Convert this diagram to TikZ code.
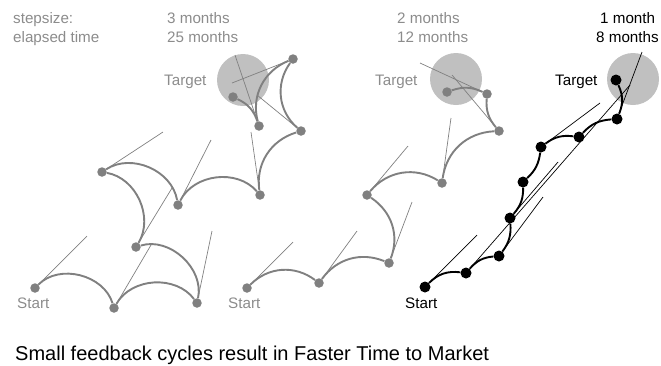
\documentclass[tikz,border=0pt]{standalone}
\usepackage{fontspec}
\setmainfont{Liberation Sans}
\definecolor{midgray}{RGB}{128,128,128}
\definecolor{textgray}{RGB}{140,140,140}
\definecolor{goalgray}{RGB}{192,192,192}
\begin{document}
\begin{tikzpicture}
        [x=1pt, y=-1pt,
        spot/.style={circle, fill=midgray, inner sep=0pt, minimum size=9.5pt},
        bigspot/.style={circle, fill=black, inner sep=0pt, minimum size=11pt},
        hop/.style={midgray, line width=1.9pt},
        aim/.style={midgray, line width=0.7pt},
        goal/.style={fill=goalgray},
        txt/.style={anchor=base west, inner sep=0pt, text=textgray, font=\fontsize{15.2}{18}\selectfont}]

        \useasboundingbox (0,0) rectangle (661,365);

        % target areas
        \fill[goal] (243,80) circle (26pt);
        \fill[goal] (456,79) circle (26pt);
        \fill[goal] (633,79) circle (26pt);

        % header texts
        \node[txt] (ss) at (13,23) {stepsize:};
        \node[txt] (et) at (13,42) {elapsed time};
        \node[txt] (ss1) at (167,23) {3 months};
        \node[txt] (et1) at (167,42) {25 months};
        \node[txt] (ss2) at (397,23) {2 months};
        \node[txt] (et2) at (397,42) {12 months};
        \node[txt, text=black] (ss3) at (600,23) {1 month};
        \node[txt, text=black] (et3) at (596,42) {8 months};

        % start and target labels
        \node[txt] (st1) at (17,308) {Start};
        \node[txt] (st2) at (228,308) {Start};
        \node[txt, text=black] (st3) at (405,308) {Start};
        \node[txt] (tg1) at (164,85) {Target};
        \node[txt] (tg2) at (375,85) {Target};
        \node[txt, text=black] (tg3) at (555,85) {Target};

        % 3 months
        \node[spot] (s1) at (35,288) {};
        \node[spot] (p1) at (114,308) {};
        \node[spot] (p2) at (197,303) {};
        \node[spot] (p3) at (136,247) {};
        \node[spot] (p4) at (102,172) {};
        \node[spot] (p5) at (178,205) {};
        \node[spot] (p6) at (260,195) {};
        \node[spot] (p7) at (301,131) {};
        \node[spot] (p8) at (293,59) {};
        \node[spot] (p9) at (259,126) {};
        \node[spot] (p10) at (233,97) {};
        \coordinate (a0) at (87,236);
        \coordinate (a1) at (151,245);
        \coordinate (a2) at (212,231);
        \coordinate (a3) at (172,188);
        \coordinate (a4) at (163,132);
        \coordinate (a5) at (211,140);
        \coordinate (a6) at (251,132);
        \coordinate (a7) at (257,95);
        \coordinate (a8) at (232,83);
        \coordinate (a9) at (235,55);

        % aiming lines
        \draw[aim] (s1) -- (a0);
        \draw[aim] (p1) -- (a1);
        \draw[aim] (p2) -- (a2);
        \draw[aim] (p3) -- (a3);
        \draw[aim] (p4) -- (a4);
        \draw[aim] (p5) -- (a5);
        \draw[aim] (p6) -- (a6);
        \draw[aim] (p7) -- (a7);
        \draw[aim] (p8) -- (a8);
        \draw[aim] (p9) -- (a9);
        % steps actually taken
        \draw[hop] (s1) to[out=45, in=107] (p1);
        \draw[hop] (p1) to[out=60, in=127] (p2);
        \draw[hop] (p2) to[out=78, in=17] (p3);
        \draw[hop] (p3) to[out=59, in=-10] (p4);
        \draw[hop] (p4) to[out=33, in=100] (p5);
        \draw[hop] (p5) to[out=63, in=131] (p6);
        \draw[hop] (p6) to[out=98, in=197] (p7);
        \draw[hop] (p7) to[out=139, in=234] (p8);
        \draw[hop] (p8) to[out=202, in=105] (p9);
        \draw[hop] (p9) to[out=109, in=-25] (p10);

        % 2 months
        \node[spot] (s2) at (247,288) {};
        \node[spot] (q1) at (319,283) {};
        \node[spot] (q2) at (389,263) {};
        \node[spot] (q3) at (367,195) {};
        \node[spot] (q4) at (442,183) {};
        \node[spot] (q5) at (499,131) {};
        \node[spot] (q6) at (487,94) {};
        \node[spot] (q7) at (447,92) {};
        \coordinate (b0) at (293,242);
        \coordinate (b1) at (357,231);
        \coordinate (b2) at (412,202);
        \coordinate (b3) at (408,146);
        \coordinate (b4) at (451,118);
        \coordinate (b5) at (452,75);
        \coordinate (b6) at (420,63);

        \draw[aim] (s2) -- (b0);
        \draw[aim] (q1) -- (b1);
        \draw[aim] (q2) -- (b2);
        \draw[aim] (q3) -- (b3);
        \draw[aim] (q4) -- (b4);
        \draw[aim] (q5) -- (b5);
        \draw[aim] (q6) -- (b6);
        \draw[hop] (s2) to[out=45, in=143] (q1);
        \draw[hop] (q1) to[out=54, in=158] (q2);
        \draw[hop] (q2) to[out=69, in=-34] (q3);
        \draw[hop] (q3) to[out=50, in=148] (q4);
        \draw[hop] (q4) to[out=82, in=183] (q5);
        \draw[hop] (q5) to[out=130, in=266] (q6);
        \draw[hop] (q6) to[out=155, in=19] (q7);

        % 1 month
        \node[bigspot] (s3) at (425,287) {};
        \node[bigspot] (r1) at (466,273) {};
        \node[bigspot] (r2) at (499,256) {};
        \node[bigspot] (r3) at (510,218) {};
        \node[bigspot] (r4) at (523,182) {};
        \node[bigspot] (r5) at (541,147) {};
        \node[bigspot] (r6) at (579,137) {};
        \node[bigspot] (r7) at (617,119) {};
        \node[bigspot] (r8) at (616,80) {};
        \coordinate (c0) at (477,235);
        \coordinate (c1) at (630,85);
        \coordinate (c2) at (543,197);
        \coordinate (c3) at (558,162);
        \coordinate (c5) at (600,103);
        \coordinate (c7) at (642,52);

        \draw[aim, black] (s3) -- (c0);
        \draw[aim, black] (r1) -- (c1);
        \draw[aim, black] (r2) -- (c2);
        \draw[aim, black] (r3) -- (c3);
        \draw[aim, black] (r5) -- (c5);
        \draw[aim, black] (r7) -- (c7);
        \draw[hop, black] (s3) to[out=45, in=173] (r1);
        \draw[hop, black] (r1) to[out=49, in=185] (r2);
        \draw[hop, black] (r2) to[out=53, in=-86] (r3);
        \draw[hop, black] (r3) to[out=49, in=-89] (r4);
        \draw[hop, black] (r4) to[out=43, in=-98] (r5);
        \draw[hop, black] (r5) to[out=37, in=173] (r6);
        \draw[hop, black] (r6) to[out=47, in=184] (r7);
        \draw[hop, black] (r7) to[out=68, in=-65] (r8);

        % caption
        \node[txt, text=black, font=\fontsize{20}{24}\selectfont] (cap) at (15,360)
          {Small feedback cycles result in Faster Time to Market};

        \end{tikzpicture}
\end{document}
